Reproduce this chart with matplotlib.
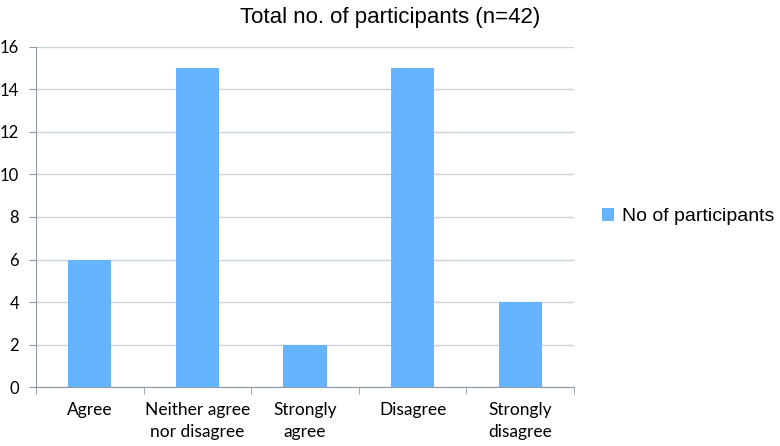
import matplotlib
matplotlib.use('Agg')
import matplotlib.pyplot as plt
import numpy as np

# data
categories = ['Agree', 'Neither agree\nnor disagree', 'Strongly\nagree', 'Disagree', 'Strongly\ndisagree']
participants = [6, 15, 2, 15, 4]
series_name = 'No of participants'
title = 'Total no. of participants (n=42)'

bar_color = '#66B3FF'
grid_color = '#CBD2D8'
axis_color = '#8C9AA6'

fig = plt.figure(figsize=(7.8, 4.46), dpi=100)
ax = fig.add_axes([0.046, 0.132, 0.690, 0.763])

x = np.arange(len(categories))
ax.bar(x, participants, width=0.4, color=bar_color, label=series_name, zorder=3)

ax.set_xlim(-0.5, len(categories) - 0.5)
ax.set_ylim(0, 16)
ax.set_yticks(range(0, 17, 2))
ax.yaxis.grid(True, color=grid_color, linewidth=1, zorder=0)

# category labels centred, tick marks between categories
ax.set_xticks(x)
ax.set_xticklabels(categories, family='Lato', fontsize=12.5, linespacing=1.4)
ax.set_xticks(np.arange(-0.5, len(categories)), minor=True)
ax.tick_params(axis='x', which='major', length=0, pad=11)
ax.tick_params(axis='x', which='minor', length=5, color=axis_color, direction='out')
ax.tick_params(axis='y', length=5, color=axis_color, labelsize=12, pad=7)
for lbl in ax.get_yticklabels():
    lbl.set_family('Lato')

for side in ['top', 'right']:
    ax.spines[side].set_visible(False)
ax.spines['left'].set_color(axis_color)
ax.spines['bottom'].set_color(axis_color)

fig.text(0.5, 0.96, title, ha='center', va='center', fontsize=16, family='Liberation Sans')

ax.legend(loc='center left', bbox_to_anchor=(1.02, 0.5), frameon=False,
          prop={'family': 'Liberation Sans', 'size': 14},
          handlelength=0.6, handleheight=0.6, handletextpad=0.4)

fig.savefig('out.png', dpi=100)
